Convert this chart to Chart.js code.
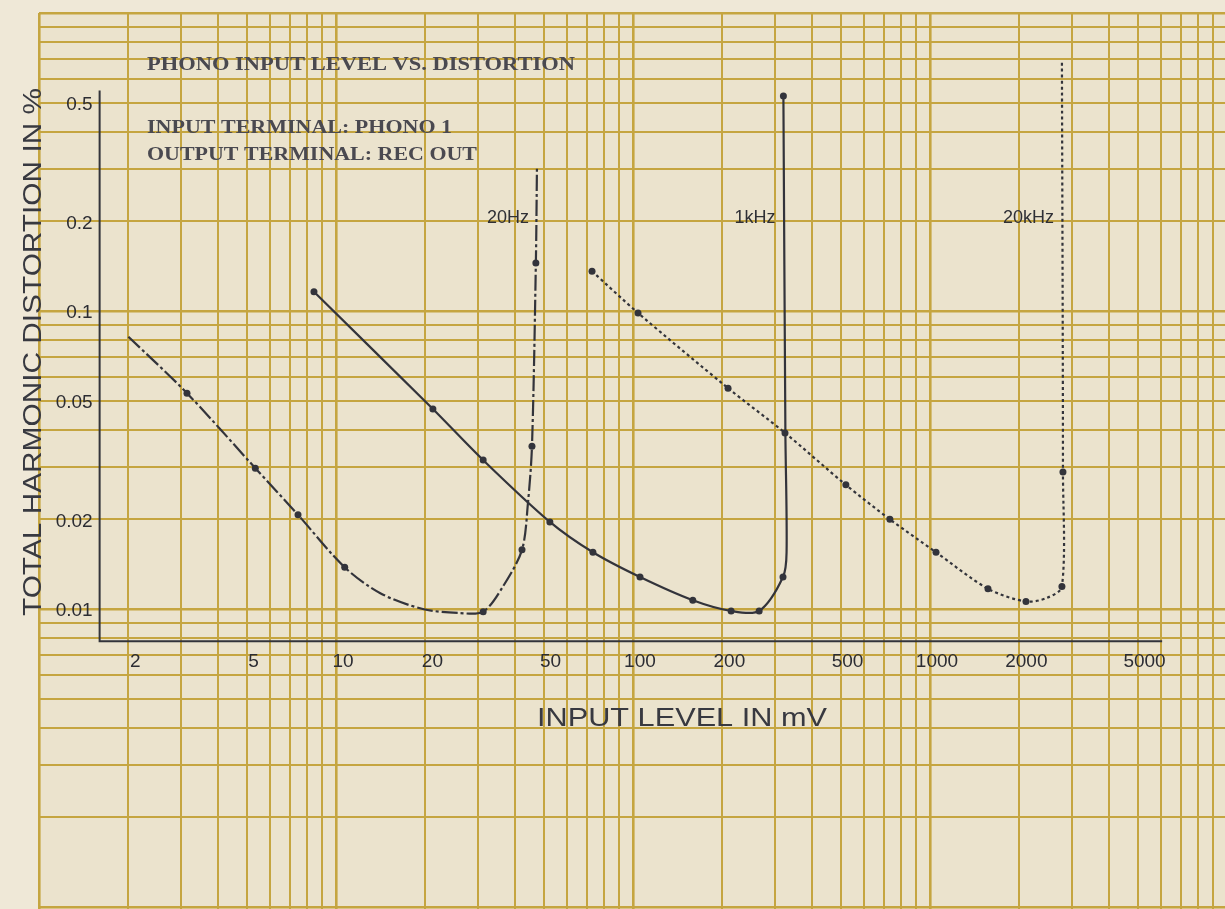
<!DOCTYPE html>
<html>
<head>
<meta charset="utf-8">
<title>Phono input level vs. distortion</title>
<script src="https://cdn.jsdelivr.net/npm/chart.js@4.4.1/dist/chart.umd.min.js"></script>
<style>
  html, body { margin: 0; padding: 0; background: #efe8d7; }
  canvas { display: block; }
</style>
</head>
<body>
<canvas id="thdChart" width="1225" height="909"></canvas>
<script>
// values: input level in mV, THD in %
const seriesNames = ['20Hz', '1kHz', '20kHz'];

const hz20Level    = [2.0, 3.15, 5.35, 7.45, 10.7, 14.1, 19.6, 25.9, 31.3, 36.5, 42.3, 44.3, 45.7, 47.1, 47.5];
const hz20Thd      = [0.082, 0.053, 0.0297, 0.0207, 0.0138, 0.0113, 0.0100, 0.0097, 0.0098, 0.0119, 0.0158, 0.0227, 0.0352, 0.145, 0.304];
const hz20Measured = [false, true, true, true, true, false, false, false, true, false, true, false, true, true, false];

const khz1Level    = [8.43, 21.2, 31.3, 52.5, 73.3, 105.6, 159, 214, 266, 320, 329, 326, 321];
const khz1Thd      = [0.116, 0.0469, 0.0316, 0.0196, 0.0155, 0.0128, 0.0107, 0.00985, 0.00985, 0.0128, 0.0155, 0.039, 0.527];
const khz1Measured = [true, true, true, true, true, true, true, true, true, true, false, false, true];

const khz20Level    = [72.8, 104, 209, 325, 521, 733, 1048, 1568, 2105, 2477, 2782, 2804, 2782];
const khz20Thd      = [0.136, 0.0985, 0.0551, 0.039, 0.0261, 0.0200, 0.0155, 0.0117, 0.0106, 0.0109, 0.0119, 0.0288, 0.685];
const khz20Measured = [true, true, true, true, true, true, true, true, true, false, true, true, false];

const xTickLabels = [2, 5, 10, 20, 50, 100, 200, 500, 1000, 2000, 5000];
const yTickLabels = [0.5, 0.2, 0.1, 0.05, 0.02, 0.01];

const ink = '#33343b';
const paperLine = '#c5a540';

// every 1..9 line of each decade, like printed log paper
function paperTicks(min, max) {
    const out = [];
    for (let d = Math.pow(10, Math.floor(Math.log10(min))); d <= max; d *= 10) {
        for (let m = 1; m < 10; m++) {
            const v = +(m * d).toPrecision(3);
            if (v >= min * 0.999 && v <= max) out.push({ value: v });
        }
    }
    return out;
}

function toPoints(xs, ys, keep) {
    const pts = [];
    xs.forEach((x, i) => { if (!keep || keep[i]) pts.push({ x: x, y: ys[i] }); });
    return pts;
}

function fitText(ctx, text, x, y, width) {
    const w = ctx.measureText(text).width;
    ctx.save();
    ctx.translate(x, y);
    ctx.scale(width / w, 1);
    ctx.fillText(text, 0, 0);
    ctx.restore();
}

const paperPlugin = {
    id: 'paper',
    beforeDraw(chart) {
        const { ctx, chartArea: a } = chart;
        ctx.save();
        ctx.fillStyle = '#efe8d7';
        ctx.fillRect(0, 0, chart.width, chart.height);
        ctx.fillStyle = '#ebe3cd';
        ctx.fillRect(a.left, a.top, a.right - a.left, a.bottom - a.top);
        ctx.restore();
    },
    beforeDatasetsDraw(chart) {
        const { ctx } = chart;
        const xs = chart.scales.x, ys = chart.scales.y;
        const left = xs.getPixelForValue(1.6), right = xs.getPixelForValue(6050);
        const top = ys.getPixelForValue(0.55), bottom = ys.getPixelForValue(0.0078);

        ctx.save();
        // printed axis lines
        ctx.strokeStyle = ink;
        ctx.lineWidth = 2;
        ctx.beginPath();
        ctx.moveTo(left, top);
        ctx.lineTo(left, bottom);
        ctx.lineTo(right, bottom);
        ctx.stroke();

        // tick labels
        ctx.fillStyle = '#2c2d33';
        ctx.font = '19px "Liberation Sans", Arial, sans-serif';
        ctx.textBaseline = 'middle';
        ctx.textAlign = 'right';
        yTickLabels.forEach(v => ctx.fillText(String(v), left - 7, ys.getPixelForValue(v) + 2));
        ctx.textAlign = 'center';
        xTickLabels.forEach(v => ctx.fillText(String(v), xs.getPixelForValue(v) + 7, bottom + 21));

        // axis titles
        ctx.fillStyle = '#383940';
        ctx.font = '26px "Liberation Sans", Arial, sans-serif';
        ctx.textAlign = 'left';
        ctx.textBaseline = 'alphabetic';
        fitText(ctx, 'INPUT LEVEL IN mV', 537, 726, 290);
        ctx.save();
        ctx.translate(41, 616);
        ctx.rotate(-Math.PI / 2);
        fitText(ctx, 'TOTAL HARMONIC DISTORTION IN %', 0, 0, 528);
        ctx.restore();

        // printed headings
        ctx.fillStyle = '#4a4950';
        ctx.font = 'bold 18px "Liberation Serif", "DejaVu Serif", serif';
        fitText(ctx, 'PHONO INPUT LEVEL VS. DISTORTION', 147, 70, 428);
        fitText(ctx, 'INPUT TERMINAL: PHONO 1', 147, 133, 305);
        fitText(ctx, 'OUTPUT TERMINAL: REC OUT', 147, 160, 330);

        // curve names, beside the top end of each curve
        ctx.fillStyle = '#2f3036';
        ctx.font = '18px "Liberation Sans", Arial, sans-serif';
        ctx.textAlign = 'right';
        ctx.textBaseline = 'middle';
        const tops = [hz20Level[hz20Level.length - 1], khz1Level[khz1Level.length - 1], khz20Level[khz20Level.length - 1]];
        seriesNames.forEach((name, i) => {
            ctx.fillText(name, xs.getPixelForValue(tops[i]) - 8, ys.getPixelForValue(0.205));
        });
        ctx.restore();
    }
};

function curve(label, xs, ys, dash) {
    return {
        label: label,
        data: toPoints(xs, ys),
        showLine: true,
        borderColor: ink,
        borderWidth: 2.2,
        borderDash: dash,
        pointRadius: 0,
        tension: 0.3,
        fill: false
    };
}

function markers(label, xs, ys, keep) {
    return {
        label: label + ' points',
        data: toPoints(xs, ys, keep),
        showLine: false,
        pointRadius: 3.5,
        pointBackgroundColor: ink,
        pointBorderWidth: 0
    };
}

const gridOpts = {
    color: paperLine,
    lineWidth: ctx => {
        const v = ctx.tick ? ctx.tick.value : 0;
        const m = v / Math.pow(10, Math.floor(Math.log10(v) + 1e-9));
        return Math.abs(m - 1) < 1e-6 ? 2.6 : 2;
    },
    drawTicks: false
};

new Chart(document.getElementById('thdChart'), {
    type: 'scatter',
    data: {
        datasets: [
            curve(seriesNames[0], hz20Level, hz20Thd, [16, 3, 3, 3]),
            curve(seriesNames[1], khz1Level, khz1Thd, []),
            curve(seriesNames[2], khz20Level, khz20Thd, [3, 3]),
            markers(seriesNames[0], hz20Level, hz20Thd, hz20Measured),
            markers(seriesNames[1], khz1Level, khz1Thd, khz1Measured),
            markers(seriesNames[2], khz20Level, khz20Thd, khz20Measured)
        ]
    },
    options: {
        responsive: false,
        animation: false,
        events: [],
        layout: { padding: { left: 39, top: 13, right: 0, bottom: 0 }, autoPadding: false },
        plugins: {
            legend: { display: false },
            tooltip: { enabled: false },
            title: { display: false }
        },
        scales: {
            x: {
                type: 'logarithmic',
                min: 1,
                max: 9850,
                afterBuildTicks: s => { s.ticks = paperTicks(1, 9850); },
                ticks: { display: false, autoSkip: false },
                grid: gridOpts,
                border: { display: false }
            },
            y: {
                type: 'logarithmic',
                min: 0.000985,
                max: 1,
                afterBuildTicks: s => { s.ticks = paperTicks(0.001, 1); },
                ticks: { display: false, autoSkip: false },
                grid: gridOpts,
                border: { display: false }
            }
        }
    },
    plugins: [paperPlugin]
});
</script>
</body>
</html>
